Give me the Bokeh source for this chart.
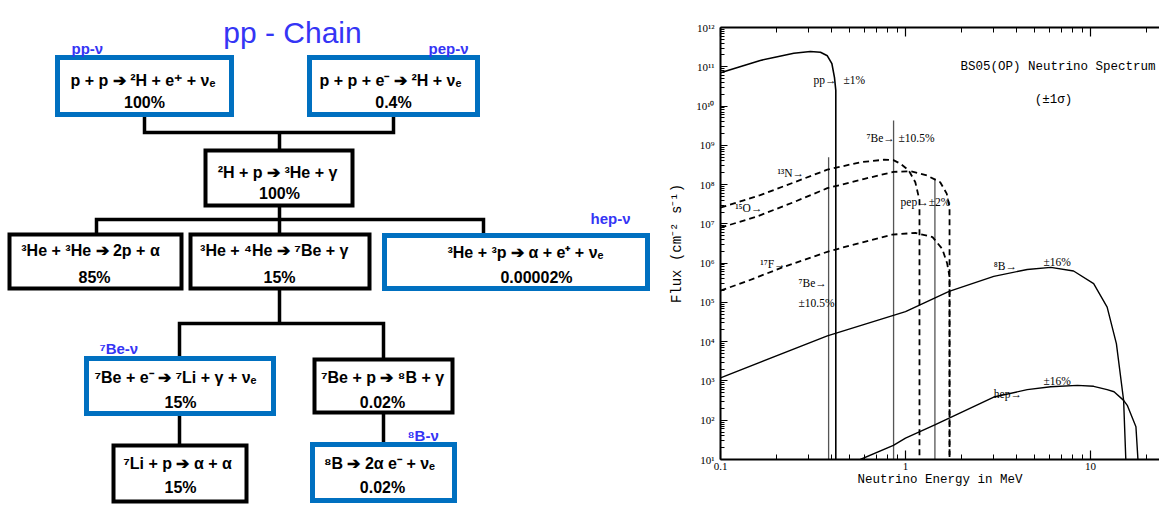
from bokeh.plotting import figure
from bokeh.layouts import row, column
from bokeh.models import (Range1d, FixedTicker, CustomJSTickFormatter, LogAxis,
                          ColumnDataSource)
from bokeh.embed import file_html
from bokeh.resources import INLINE
from bokeh.core.properties import value

# ---------------- data: pp-chain diagram ----------------
reactions = ["p + p ➔ ²H + e⁺ + νₑ", "p + p + e⁻ ➔ ²H + νₑ", "²H + p ➔ ³He + γ",
             "³He + ³He ➔ 2p + α", "³He + ⁴He ➔ ⁷Be  + γ", "³He + ³p ➔ α + e⁺ + νₑ",
             "⁷Be + e⁻ ➔ ⁷Li + γ + νₑ", "⁷Be + p ➔ ⁸B + γ", "⁷Li + p ➔ α + α",
             "⁸B ➔ 2α e⁻ + νₑ"]
branching = ["100%", "0.4%", "100%", "85%", "15%", "0.00002%", "15%", "0.02%", "15%", "0.02%"]
emits_neutrino = [True, True, False, False, False, True, True, False, False, True]
nu_labels = ["pp-ν", "pep-ν", "hep-ν", "⁷Be-ν", "⁸B-ν"]
title_left = "pp - Chain"

# ---------------- data: BS05(OP) neutrino spectrum ----------------
pp_E = [0.1, 0.13, 0.164, 0.2, 0.249, 0.306, 0.347, 0.378, 0.40, 0.413, 0.42, 0.42]
pp_F = [7.0e10, 1.03e11, 1.45e11, 1.78e11, 2.2e11, 2.45e11, 2.35e11, 1.9e11, 1.2e11, 5.4e10, 2.5e10, 1.0]

n13_E = [0.1, 0.164, 0.25, 0.378, 0.57, 0.763, 0.86, 0.94, 1.04, 1.13, 1.19, 1.19]
n13_F = [2.6e7, 5.4e7, 1.14e8, 2.4e8, 3.7e8, 4.3e8, 4.2e8, 3.4e8, 2.3e8, 1.15e8, 4.0e7, 1.0]

o15_E = [0.1, 0.155, 0.25, 0.378, 0.6, 0.86, 1.06, 1.31, 1.54, 1.67, 1.73, 1.73]
o15_F = [8.0e6, 1.5e7, 3.6e7, 8.1e7, 1.4e8, 2.1e8, 2.2e8, 1.7e8, 1.15e8, 5.9e7, 2.7e7, 1.0]

f17_E = [0.1, 0.142, 0.216, 0.385, 0.6, 0.846, 1.13, 1.4, 1.58, 1.68, 1.73, 1.73]
f17_F = [2.0e5, 3.6e5, 7.8e5, 2.0e6, 3.5e6, 5.3e6, 5.9e6, 4.6e6, 2.3e6, 9.8e5, 4.5e5, 1.0]

b8_E = [0.1, 0.378, 1.0, 1.72, 3.0, 4.55, 6.1, 8.1, 10.4, 12.3, 13.8, 15.1, 15.8]
b8_F = [1.2e3, 1.4e4, 5.8e4, 1.9e5, 4.6e5, 6.9e5, 7.8e5, 6.3e5, 3.0e5, 7.6e4, 8.9e3, 3.2e2, 1.0]

hep_E = [0.57, 0.86, 1.0, 1.44, 3.0, 4.55, 6.1, 8.5, 10.4, 12.3, 13.4, 15.1, 15.8, 17.6, 18.6]
hep_F = [10, 23, 35, 76, 3.9e2, 6.0e2, 7.1e2, 7.7e2, 7.3e2, 6.0e2, 5.3e2, 3.2e2, 2.4e2, 68, 1.0]

line_E = [0.384, 0.862, 1.442]          # 7Be (10%), 7Be (90%), pep
line_F = [5.0e8, 4.3e9, 1.4e8]

ann_text = ["pp→", "±1%", "⁷Be→", "±10.5%", "¹³N→", "¹⁵O→", "pep→±2%", "¹⁷F→",
            "⁷Be→", "±10.5%", "⁸B→", "±16%", "hep→", "±16%"]
ann_E = [0.318, 0.462, 0.615, 0.916, 0.203, 0.12, 0.94, 0.164, 0.264, 0.264, 3.0, 5.57, 3.0, 5.57]
ann_F = [4.5e10, 4.5e10, 1.5e9, 1.5e9, 2.0e8, 2.6e7, 3.7e7, 9.4e5, 3.1e5, 9.5e4, 8.7e5, 1.04e6, 4.6e2, 1.0e3]

spec_title = "BS05(OP) Neutrino Spectrum"
spec_sub = "(±1σ)"
x_major = [0.1, 1, 10]
x_minor = [0.2, 0.3, 0.4, 0.5, 0.6, 0.7, 0.8, 0.9, 2, 3, 4, 5, 6, 7, 8, 9, 20]
y_exponents = list(range(1, 13))

# ---------------- layout of the diagram (page pixels) ----------------
BLUE_BOX = "#0070C0"
BLUE_TXT = "#3535F5"
box_left = [57, 309, 205, 9, 190, 384, 86, 314, 113, 312]
box_right = [231, 477, 352, 181, 369, 647, 273, 452, 246, 454]
box_top = [57, 57, 150, 234, 234, 235, 358, 359, 445, 444]
box_bottom = [114, 114, 205, 288, 288, 288, 413, 412, 501, 500]
l1_x = [141, 390, 277, 90, 276, 525, 175, 382, 177, 379]
l2_x = [144, 393, 279, 94, 279, 536, 180, 382, 180, 382]
l1_y = [80, 80, 172, 250, 250, 252, 377, 377, 463, 463]
l2_y = [102, 102, 193, 277, 277, 277, 402, 402, 487, 487]
conn_xs = [[144, 144, 393, 393], [279, 279], [96, 96, 483, 483], [279, 279],
           [179, 179, 383, 383], [279, 279], [179, 179], [383, 383]]
conn_ys = [[114, 132, 132, 114], [132, 150], [234, 219, 219, 235], [205, 234],
           [358, 323, 323, 359], [288, 323], [413, 445], [412, 444]]
nu_x = [71, 428, 590, 99, 407]
nu_y = [48, 48, 218, 348, 435]

p1 = figure(width=660, height=506, x_range=Range1d(0, 660), y_range=Range1d(506, 0),
            output_backend="svg", toolbar_location=None, min_border=0,
            x_axis_location=None, y_axis_location=None)
p1.grid.visible = False
p1.outline_line_color = None
p1.background_fill_color = "white"
p1.border_fill_color = "white"

p1.multi_line(conn_xs, conn_ys, line_color="black", line_width=3.5, line_join="miter")

box_src = ColumnDataSource(dict(
    left=box_left, right=box_right, top=box_top, bottom=box_bottom,
    color=[BLUE_BOX if e else "black" for e in emits_neutrino],
    lw=[5 if e else 4 for e in emits_neutrino]))
p1.quad(left="left", right="right", top="top", bottom="bottom", source=box_src,
        fill_color="white", line_color="color", line_width="lw", line_join="miter")

p1.text(l1_x, l1_y, text=reactions, text_align="center", text_baseline="middle",
        text_font=value("Liberation Sans"), text_font_style="bold",
        text_font_size="16px", text_color="black")
p1.text(l2_x, l2_y, text=branching, text_align="center", text_baseline="middle",
        text_font=value("Liberation Sans"), text_font_style="bold",
        text_font_size="16px", text_color="black")
p1.text(nu_x, nu_y, text=nu_labels, text_align="left", text_baseline="middle",
        text_font=value("Liberation Sans"), text_font_style="bold",
        text_font_size="15px", text_color=BLUE_TXT)
p1.text([292], [32], text=[title_left], text_align="center", text_baseline="alphabetic",
        text_font=value("Liberation Sans"), text_font_size="30px", text_color=BLUE_TXT)

# ---------------- spectrum plot ----------------
p2 = figure(width=499, height=506, x_axis_type="log", y_axis_type="log",
            x_range=Range1d(0.1, 23.6), y_range=Range1d(10, 1e12),
            output_backend="svg", toolbar_location=None,
            min_border_left=60, min_border_right=0, min_border_top=27, min_border_bottom=47)
p2.grid.visible = False
p2.outline_line_color = None
p2.background_fill_color = "white"
p2.border_fill_color = "white"

xt = FixedTicker(ticks=x_major, minor_ticks=x_minor)
yt = FixedTicker(ticks=[10.0 ** k for k in y_exponents],
                 minor_ticks=[m * 10.0 ** k for k in y_exponents[:-1] for m in range(2, 10)])

xfmt = CustomJSTickFormatter(code="return tick < 1 ? tick.toFixed(1) : tick.toFixed(0);")
yfmt = CustomJSTickFormatter(code="""
const sup = {'0':'\u2070','1':'\u00b9','2':'\u00b2','3':'\u00b3','4':'\u2074','5':'\u2075',
             '6':'\u2076','7':'\u2077','8':'\u2078','9':'\u2079','-':'\u207b'};
const e = Math.round(Math.log10(tick));
return '10' + String(e).split('').map(c => sup[c]).join('');
""")

xa = p2.xaxis[0]
xa.ticker = xt
xa.formatter = xfmt
xa.axis_label = "Neutrino Energy in MeV"
xa.axis_label_text_font = "Liberation Mono"
xa.axis_label_text_font_style = "normal"
xa.axis_label_text_font_size = "12.5px"
xa.axis_label_standoff = 0
xa.major_label_text_font = "Liberation Serif"
xa.major_label_text_font_size = "11px"
xa.major_label_standoff = 3

ya = p2.yaxis[0]
ya.ticker = yt
ya.formatter = yfmt
ya.axis_label = "Flux (cm⁻² s⁻¹)"
ya.axis_label_text_font = "Liberation Mono"
ya.axis_label_text_font_style = "normal"
ya.axis_label_text_font_size = "14px"
ya.axis_label_standoff = 8
ya.major_label_text_font = "Liberation Serif"
ya.major_label_text_font_size = "11px"
ya.major_label_standoff = 6

top_axis = LogAxis(ticker=xt, formatter=xfmt, major_label_text_font_size="6px",
                   major_label_text_color=None, major_label_standoff=0)
p2.add_layout(top_axis, "above")

for ax in (xa, top_axis):
    ax.major_tick_in = 9
    ax.major_tick_out = 0
    ax.minor_tick_in = 5
    ax.minor_tick_out = 0
ya.major_tick_in = 7
ya.major_tick_out = 0
ya.minor_tick_in = 4
ya.minor_tick_out = 0
for ax in (xa, ya, top_axis):
    ax.axis_line_width = 2
    ax.axis_line_color = "black"
    ax.major_tick_line_color = "black"
    ax.minor_tick_line_color = "black"
    ax.major_tick_line_width = 1.2
    ax.axis_label_text_color = "black"
xa.major_label_text_color = "black"
ya.major_label_text_color = "black"

floor = [1.0] * len(line_E)
p2.segment(x0=line_E, y0=line_F, x1=line_E, y1=floor, line_color="#555555", line_width=1.3)

p2.line(pp_E, pp_F, line_color="black", line_width=1.6)
p2.line(b8_E, b8_F, line_color="black", line_width=1.4)
p2.line(hep_E, hep_F, line_color="black", line_width=1.4)
for E, F in ((n13_E, n13_F), (o15_E, o15_F), (f17_E, f17_F)):
    p2.line(E, F, line_color="black", line_width=1.8, line_dash="6 4")

p2.text(ann_E, ann_F, text=ann_text, text_align="left", text_baseline="middle",
        text_font=value("Liberation Serif"), text_font_size="11.5px", text_color="black")
p2.text([1.98], [9.6e10], text=[spec_title], text_align="left", text_baseline="middle",
        text_font=value("Liberation Mono"), text_font_size="12.5px", text_color="black")
p2.text([6.3], [1.4e10], text=[spec_sub], text_align="center", text_baseline="middle",
        text_font=value("Liberation Mono"), text_font_size="12.5px", text_color="black")

layout = row(column(p1), column(p2))
open("out.html", "w").write(file_html(layout, INLINE))
